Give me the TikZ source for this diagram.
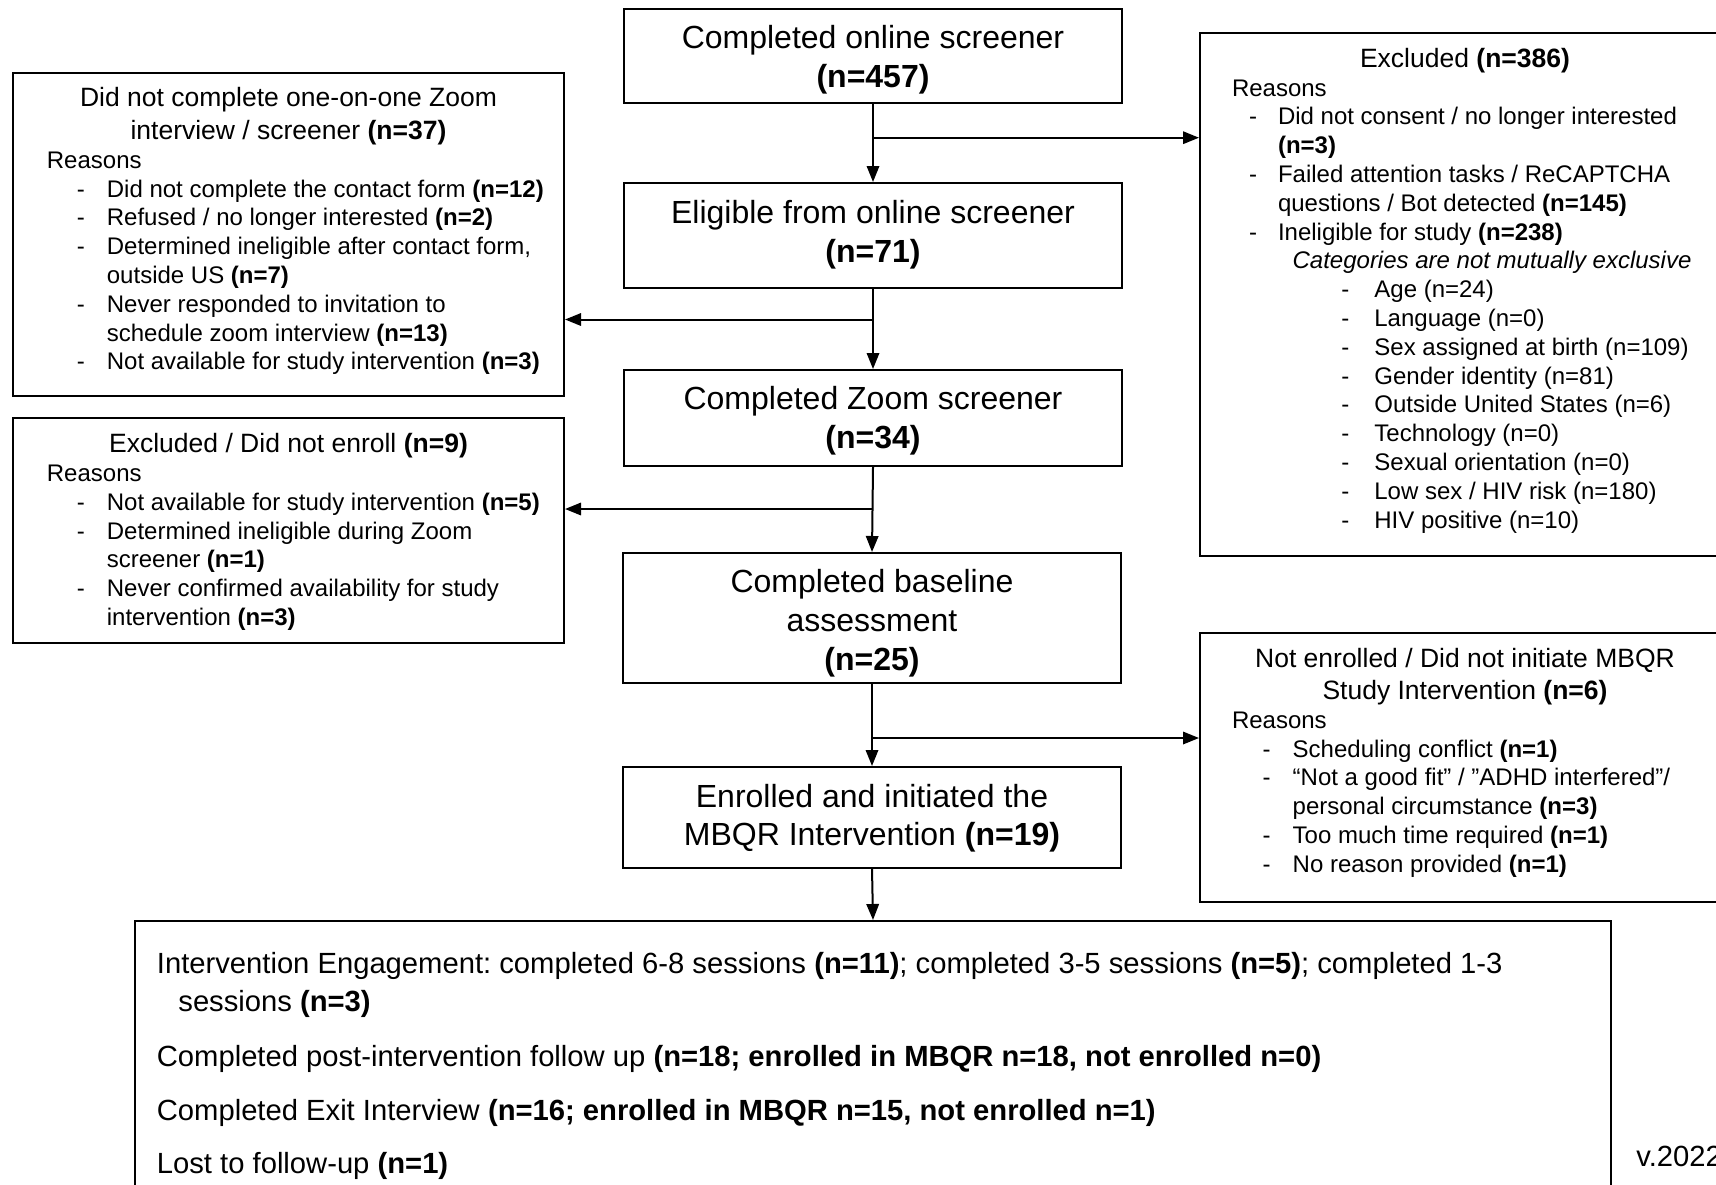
\documentclass[tikz,border=0pt]{standalone}
\usepackage{fontspec}
\setmainfont{Liberation Sans}
\usetikzlibrary{arrows.meta}
\frenchspacing
\newcommand{\nb}[1]{\textbf{#1}}
\newcommand{\fmain}{\fontsize{16}{19.5}\selectfont}
\newcommand{\fmainb}{\fontsize{16}{19.15}\selectfont}
\newcommand{\fttl}{\fontsize{13.25}{16.4}\selectfont}
\newcommand{\fttlb}{\fontsize{13.25}{16.35}\selectfont}
\newcommand{\fitm}{\fontsize{12}{14.4}\selectfont}
\newcommand{\fbot}{\fontsize{14.6}{19}\selectfont}
\newcommand{\Dl}[2]{\makebox[#2][l]{\hspace*{#1}-}}
\newcommand{\ctext}[2]{\parbox[t]{#1}{\centering #2}}
\newcommand{\ltext}[2]{\parbox[t]{#1}{#2}}
\begin{document}
\begin{tikzpicture}[x=0.5pt,y=-0.5pt,
  bx/.style={draw=black, line width=1pt, inner sep=0pt},
  arr/.style={line width=1pt, -{Triangle[length=8pt,width=6.2pt]}},
  txt/.style={inner sep=0pt, anchor=base west},
  ctr/.style={inner sep=0pt, anchor=base}]
\useasboundingbox (0,0) rectangle (1716,1184);
\clip (0,0) rectangle (1716,1184);
\fill[white] (0,0) rectangle (1716,1184);

% main column boxes
\node[bx, minimum width=249pt, minimum height=47pt] (b1) at (873,56) {};
\node[bx, minimum width=249pt, minimum height=52.5pt] (b2) at (873,235.5) {};
\node[bx, minimum width=249pt, minimum height=48pt] (b3) at (873,418) {};
\node[bx, minimum width=249pt, minimum height=65pt] (b4) at (872,618) {};
\node[bx, minimum width=249pt, minimum height=50.5pt] (b5) at (872,817.5) {};
% side boxes
\node[bx, minimum width=275.5pt, minimum height=161.5pt] (l1) at (288.5,234.5) {};
\node[bx, minimum width=275.5pt, minimum height=112.5pt] (l2) at (288.5,530.5) {};
\node[bx, minimum width=265pt, minimum height=261.5pt] (r1) at (1465,294.5) {};
\node[bx, minimum width=265pt, minimum height=134.5pt] (r2) at (1465,767.5) {};
\node[bx, minimum width=738pt, minimum height=139.5pt] (bb) at (873,1060.5) {};

% main texts
\node[ctr, font=\fmain] (t1) at (873,48) {\ctext{240pt}{Completed online screener\\\nb{(n=457)}}};
\node[ctr, font=\fmain] (t2) at (873,223) {\ctext{240pt}{Eligible from online screener\\\nb{(n=71)}}};
\node[ctr, font=\fmain] (t3) at (873,409) {\ctext{240pt}{Completed Zoom screener\\\nb{(n=34)}}};
\node[ctr, font=\fmain] (t4) at (872,592) {\ctext{240pt}{Completed baseline\\assessment\\\nb{(n=25)}}};
\node[ctr, font=\fmainb] (t5) at (872,807) {\ctext{240pt}{Enrolled and initiated the\\MBQR Intervention \nb{(n=19)}}};

% left box 1
\node[ctr, font=\fttl] (l1t) at (288.5,106.4) {\ctext{270pt}{Did not complete one-on-one Zoom\\interview / screener \nb{(n=37)}}};
\node[txt, font=\fitm] (l1b) at (46.5,168.2) {\ltext{270pt}{Reasons\\
\Dl{15pt}{30pt}Did not complete the contact form \nb{(n=12)}\\
\Dl{15pt}{30pt}Refused / no longer interested \nb{(n=2)}\\
\Dl{15pt}{30pt}Determined ineligible after contact form,\\
\hspace*{30pt}outside US \nb{(n=7)}\\
\Dl{15pt}{30pt}Never responded to invitation to\\
\hspace*{30pt}schedule zoom interview \nb{(n=13)}\\
\Dl{15pt}{30pt}Not available for study intervention \nb{(n=3)}}};

% left box 2
\node[ctr, font=\fttl] (l2t) at (288.5,452.5) {\ctext{270pt}{Excluded / Did not enroll \nb{(n=9)}}};
\node[txt, font=\fitm] (l2b) at (46.5,481.5) {\ltext{270pt}{Reasons\\
\Dl{15pt}{30pt}Not available for study intervention \nb{(n=5)}\\
\Dl{15pt}{30pt}Determined ineligible during Zoom\\
\hspace*{30pt}screener \nb{(n=1)}\\
\Dl{15pt}{30pt}Never confirmed availability for study\\
\hspace*{30pt}intervention \nb{(n=3)}}};

% right box 1
\node[ctr, font=\fttl] (r1t) at (1465,67) {\ctext{260pt}{Excluded \nb{(n=386)}}};
\node[txt, font=\fitm] (r1b) at (1231.6,96) {\ltext{260pt}{Reasons\\
\Dl{8.5pt}{23pt}Did not consent / no longer interested\\
\hspace*{23pt}\nb{(n=3)}\\
\Dl{8.5pt}{23pt}Failed attention tasks / ReCAPTCHA\\
\hspace*{23pt}questions / Bot detected \nb{(n=145)}\\
\Dl{8.5pt}{23pt}Ineligible for study \nb{(n=238)}\\
\hspace*{30.3pt}\textit{Categories are not mutually exclusive}\\
\Dl{54.7pt}{71.2pt}Age (n=24)\\
\Dl{54.7pt}{71.2pt}Language (n=0)\\
\Dl{54.7pt}{71.2pt}Sex assigned at birth (n=109)\\
\Dl{54.7pt}{71.2pt}Gender identity (n=81)\\
\Dl{54.7pt}{71.2pt}Outside United States (n=6)\\
\Dl{54.7pt}{71.2pt}Technology (n=0)\\
\Dl{54.7pt}{71.2pt}Sexual orientation (n=0)\\
\Dl{54.7pt}{71.2pt}Low sex / HIV risk (n=180)\\
\Dl{54.7pt}{71.2pt}HIV positive (n=10)}};

% right box 2
\node[ctr, font=\fttlb] (r2t) at (1465,667.2) {\ctext{260pt}{Not enrolled / Did not initiate MBQR\\Study Intervention \nb{(n=6)}}};
\node[txt, font=\fitm] (r2b) at (1231.6,728.2) {\ltext{260pt}{Reasons\\
\Dl{15.25pt}{30.35pt}Scheduling conflict \nb{(n=1)}\\
\Dl{15.25pt}{30.35pt}“Not a good fit” / ”ADHD interfered”/\\
\hspace*{30.35pt}personal circumstance \nb{(n=3)}\\
\Dl{15.25pt}{30.35pt}Too much time required \nb{(n=1)}\\
\Dl{15.25pt}{30.35pt}No reason provided \nb{(n=1)}}};

% bottom box
\node[txt, font=\fbot] (bbt) at (156.5,973) {\ltext{720pt}{Intervention Engagement: completed 6-8 sessions \nb{(n=11)}; completed 3-5 sessions \nb{(n=5)}; completed 1-3\\
\hspace*{10.75pt}sessions \nb{(n=3)}\\[8.5pt]
Completed post-intervention follow up \nb{(n=18; enrolled in MBQR n=18, not enrolled n=0)}\\[8pt]
Completed Exit Interview \nb{(n=16; enrolled in MBQR n=15, not enrolled n=1)}\\[7.5pt]
Lost to follow-up \nb{(n=1)}}};

\node[txt, font=\fbot] (ver) at (1636,1166) {v.2022};

% connectors
\draw[arr] (b1.south) -- (b2.north);
\draw[arr] (b2.south) -- (b3.north);
\draw[arr] (b3.south) -- (b4.north);
\draw[arr] (b4.south) -- (b5.north);
\draw[arr] (b5.south) -- (bb.north);
\coordinate (j1) at (873,137.7);
\coordinate (j2) at (873,319.5);
\coordinate (j3) at (873,509);
\coordinate (j4) at (872,738);
\draw[arr] (j1) -- (j1 -| r1.west);
\draw[arr] (j2) -- (j2 -| l1.east);
\draw[arr] (j3) -- (j3 -| l2.east);
\draw[arr] (j4) -- (j4 -| r2.west);
\end{tikzpicture}
\end{document}
